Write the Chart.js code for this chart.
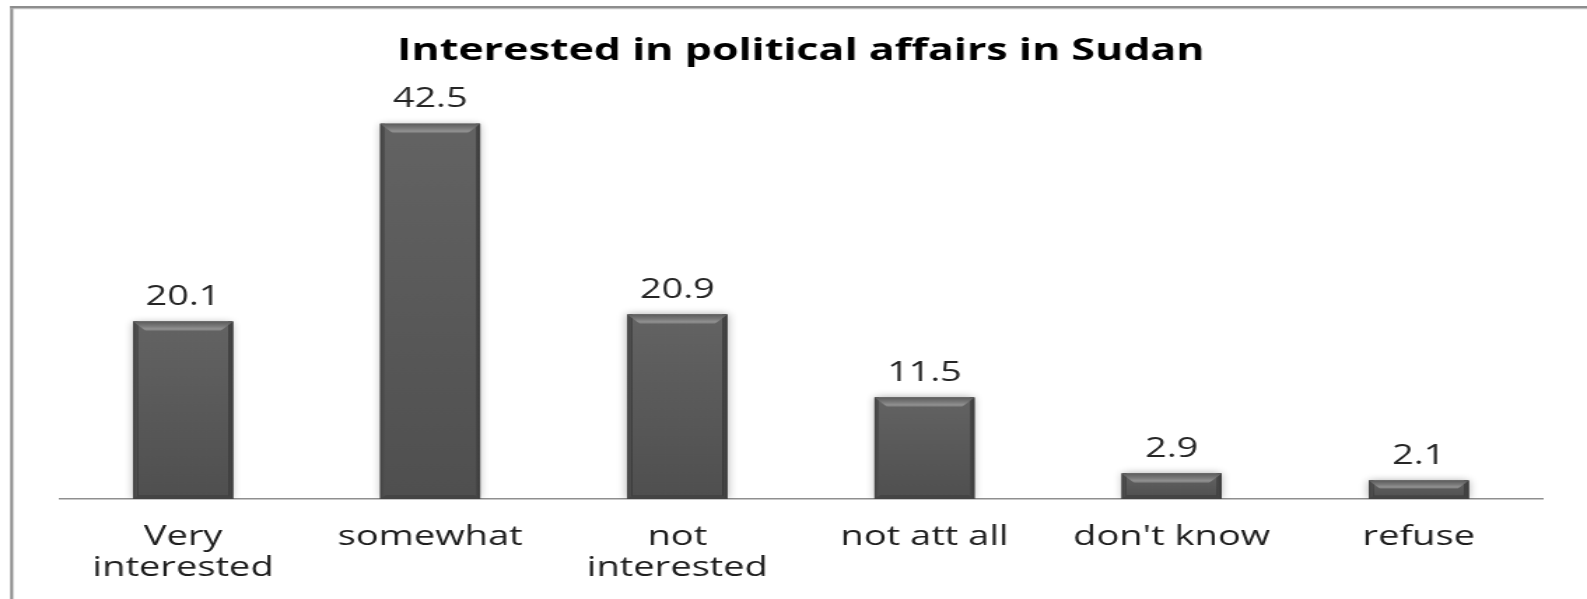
<!DOCTYPE html>
<html>
<head>
<meta charset="utf-8">
<title>Interested in political affairs in Sudan</title>
<script src="https://cdn.jsdelivr.net/npm/chart.js@4/dist/chart.umd.min.js"></script>
<style>
  html, body { margin: 0; padding: 0; background: #ffffff; overflow: hidden; }
  body { width: 1587px; height: 599px; position: relative; }
  /* the drawing is laid out on a narrower canvas and widened with a horizontal stretch */
  #chart {
    position: absolute; left: 0; top: 0;
    width: 1134px; height: 599px;
    transform: scaleX(1.39947); transform-origin: 0 0;
  }
</style>
</head>
<body>
<canvas id="chart" width="1134" height="599"></canvas>
<script>
const titleText = 'Interested in political affairs in Sudan';
const categories = [['Very', 'interested'], 'somewhat', ['not', 'interested'], 'not att all', "don't know", 'refuse'];
const shares = [20.1, 42.5, 20.9, 11.5, 2.9, 2.1];

// thin grey frame along the left and top edges
const framePlugin = {
  id: 'frame',
  beforeDraw(chart) {
    const ctx = chart.ctx;
    ctx.save();
    ctx.fillStyle = '#8d8d8d';
    ctx.fillRect(7.3, 6, 2.1, chart.height);
    ctx.fillRect(7.3, 6, chart.width, 2.4);
    ctx.fillStyle = '#b4b4b4';
    ctx.fillRect(7.3, 8.4, chart.width, 0.8);
    ctx.restore();
  }
};

// soft shadow under bars, then bevelled faces on top of each bar
const bevelPlugin = {
  id: 'bevel',
  beforeDatasetDraw(chart) {
    const ctx = chart.ctx;
    ctx.save();
    ctx.shadowColor = 'rgba(0,0,0,0.32)';
    ctx.shadowBlur = 7;
  },
  afterDatasetDraw(chart, args) {
    const ctx = chart.ctx;
    ctx.restore();
    args.meta.data.forEach(bar => {
      const p = bar.getProps(['x', 'y', 'base', 'width'], true);
      const l = p.x - p.width / 2, r = p.x + p.width / 2;
      const t = Math.min(p.y, p.base), b = Math.max(p.y, p.base);
      const h = b - t, w = r - l;
      ctx.save();
      // body
      let g = ctx.createLinearGradient(0, t, 0, b);
      g.addColorStop(0, '#636363');
      g.addColorStop(1, '#4f4f4f');
      ctx.fillStyle = g;
      ctx.fillRect(l, t, w, h);
      // side edges
      g = ctx.createLinearGradient(l, 0, r, 0);
      g.addColorStop(0, '#434343');
      g.addColorStop(0.04, '#4f4f4f');
      g.addColorStop(0.05, 'rgba(0,0,0,0)');
      g.addColorStop(0.95, 'rgba(0,0,0,0)');
      g.addColorStop(0.96, '#484848');
      g.addColorStop(1, '#3a3a3a');
      ctx.fillStyle = g;
      ctx.fillRect(l, t, w, h);
      // top bevel
      const tb = Math.min(9.5, h * 0.45);
      const ti = tb * 0.95;
      g = ctx.createLinearGradient(0, t, 0, t + tb);
      g.addColorStop(0, '#5c5c5c');
      g.addColorStop(0.45, '#777777');
      g.addColorStop(0.8, '#929292');
      g.addColorStop(1, '#6a6a6a');
      ctx.fillStyle = g;
      ctx.beginPath();
      ctx.moveTo(l, t);
      ctx.lineTo(r, t);
      ctx.lineTo(r - ti, t + tb);
      ctx.lineTo(l + ti, t + tb);
      ctx.closePath();
      ctx.fill();
      // bottom bevel
      const bb = Math.min(4, h * 0.2);
      ctx.fillStyle = '#444444';
      ctx.beginPath();
      ctx.moveTo(l, b);
      ctx.lineTo(r, b);
      ctx.lineTo(r - bb, b - bb);
      ctx.lineTo(l + bb, b - bb);
      ctx.closePath();
      ctx.fill();
      ctx.restore();
    });
  }
};

// value written above every bar
const valueLabelPlugin = {
  id: 'valueLabels',
  afterDatasetsDraw(chart) {
    const ctx = chart.ctx;
    const meta = chart.getDatasetMeta(0);
    const data = chart.data.datasets[0].data;
    ctx.save();
    ctx.font = '27px "Open Sans"';
    ctx.fillStyle = '#262626';
    ctx.textAlign = 'center';
    ctx.textBaseline = 'alphabetic';
    meta.data.forEach((bar, i) => {
      ctx.fillText(data[i].toFixed(1), bar.x, bar.y - 16.5);
    });
    ctx.restore();
  }
};

new Chart(document.getElementById('chart'), {
  type: 'bar',
  data: {
    labels: categories,
    datasets: [{
      data: shares,
      backgroundColor: '#555555',
      borderWidth: 0,
      barPercentage: 0.404,
      categoryPercentage: 1.0
    }]
  },
  options: {
    responsive: false,
    animation: false,
    devicePixelRatio: 1,
    layout: { padding: { left: 42.5, right: 31.9, top: 0, bottom: 0 } },
    plugins: {
      legend: { display: false },
      tooltip: { enabled: false },
      title: {
        display: true,
        text: titleText,
        color: '#000000',
        font: { family: '"Open Sans"', size: 30.7, weight: 'bold', lineHeight: 1.2 },
        padding: { top: 32.4, bottom: 32.4 }
      }
    },
    scales: {
      x: {
        grid: { display: false, drawTicks: false },
        border: { display: true, color: '#8f8f8f', width: 1.5 },
        ticks: {
          color: '#1e1e1e',
          font: { family: '"Open Sans"', size: 27.2, lineHeight: 1.15 },
          padding: 22.5,
          maxRotation: 0,
          autoSkip: false
        },
        afterFit(scale) { scale.height = 100; }
      },
      y: {
        display: false,
        min: 0,
        max: 45
      }
    }
  },
  plugins: [framePlugin, bevelPlugin, valueLabelPlugin]
});
</script>
</body>
</html>
